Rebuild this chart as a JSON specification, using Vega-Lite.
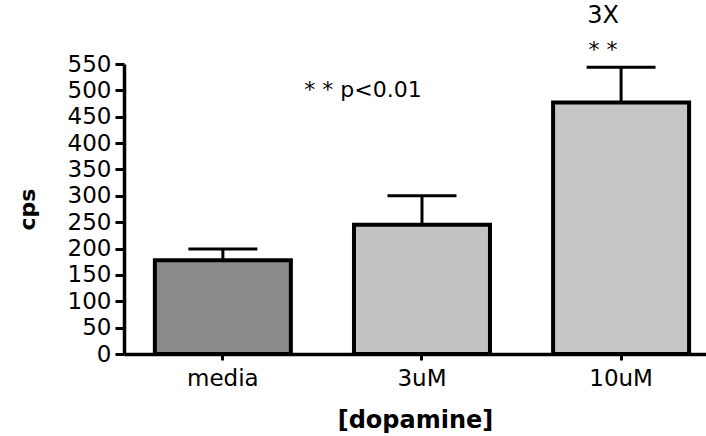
{
  "$schema": "https://vega.github.io/schema/vega-lite/v6.json",
  "width": 582,
  "height": 290,
  "autosize": {"type": "none"},
  "padding": {"left": 124, "top": 64, "right": 0, "bottom": 82},
  "background": "white",
  "config": {
    "view": {"stroke": null},
    "font": "DejaVu Sans",
    "axis": {
      "grid": false, "labelFont": "DejaVu Sans", "labelFontSize": 23, "labelColor": "black",
      "tickWidth": 3, "tickColor": "black", "domainColor": "black", "domainWidth": 3.5,
      "titleFont": "DejaVu Sans", "titleFontWeight": "bold", "titleColor": "black", "labelOverlap": false
    },
    "axisX": {"labelAngle": 0, "labelPadding": 7, "tickSize": 6, "titleFontSize": 24, "titlePadding": 18},
    "axisY": {"tickCount": 11, "labelPadding": 4, "tickSize": 9, "titleFontSize": 22, "titlePadding": 28, "labelBound": false, "labelFlush": false}
  },
  "datasets": {
    "bars": [
      {"dose": "media", "cps": 178, "upper": 199},
      {"dose": "3uM", "cps": 245, "upper": 300},
      {"dose": "10uM", "cps": 477, "upper": 544}
    ],
    "notes": [
      {"dose": "10uM", "pos": 641, "note": "3X"},
      {"dose": "10uM", "pos": 576, "note": "* *"},
      {"dose": "3uM", "pos": 500, "note": "* * p<0.01"}
    ]
  },
  "layer": [
    {
      "data": {"name": "bars"},
      "mark": {"type": "bar", "stroke": "black", "strokeWidth": 4, "strokeJoin": "miter"},
      "encoding": {
        "x": {
          "field": "dose", "type": "nominal", "sort": ["media", "3uM", "10uM"], "title": "[dopamine]",
          "scale": {"paddingInner": 0.317, "paddingOuter": 0.12, "align": 0.646}
        },
        "y": {
          "field": "cps", "type": "quantitative", "title": "cps",
          "scale": {"domain": [0, 550], "nice": false}
        },
        "color": {
          "field": "dose", "type": "nominal", "legend": null,
          "scale": {"domain": ["media", "3uM", "10uM"], "range": ["#8a8a8a", "#c2c2c2", "#c6c6c6"]}
        }
      }
    },
    {
      "data": {"name": "bars"},
      "mark": {"type": "rule", "color": "black", "strokeWidth": 3},
      "encoding": {
        "x": {"field": "dose", "type": "nominal", "sort": ["media", "3uM", "10uM"], "title": "[dopamine]"},
        "y": {"field": "cps", "type": "quantitative", "title": "cps"},
        "y2": {"field": "upper"}
      }
    },
    {
      "data": {"name": "bars"},
      "mark": {"type": "tick", "color": "black", "thickness": 3, "size": 69, "opacity": 1},
      "encoding": {
        "x": {"field": "dose", "type": "nominal", "sort": ["media", "3uM", "10uM"], "title": "[dopamine]"},
        "y": {"field": "upper", "type": "quantitative", "title": "cps"}
      }
    },
    {
      "data": {"name": "notes"},
      "transform": [{"filter": "datum.dose === '10uM'"}],
      "mark": {"type": "text", "font": "DejaVu Sans", "fontSize": 22, "color": "black", "baseline": "middle", "align": "center", "dx": -18},
      "encoding": {
        "x": {"field": "dose", "type": "nominal", "sort": ["media", "3uM", "10uM"], "title": "[dopamine]"},
        "y": {"field": "pos", "type": "quantitative", "title": "cps"},
        "text": {"field": "note"},
        "size": {"condition": {"test": "datum.note === '3X'", "value": 24}, "value": 22}
      }
    },
    {
      "data": {"name": "notes"},
      "transform": [{"filter": "datum.dose === '3uM'"}],
      "mark": {"type": "text", "font": "DejaVu Sans", "fontSize": 22, "color": "black", "baseline": "middle", "align": "center", "dx": -59},
      "encoding": {
        "x": {"field": "dose", "type": "nominal", "sort": ["media", "3uM", "10uM"], "title": "[dopamine]"},
        "y": {"field": "pos", "type": "quantitative", "title": "cps"},
        "text": {"field": "note"}
      }
    }
  ]
}
